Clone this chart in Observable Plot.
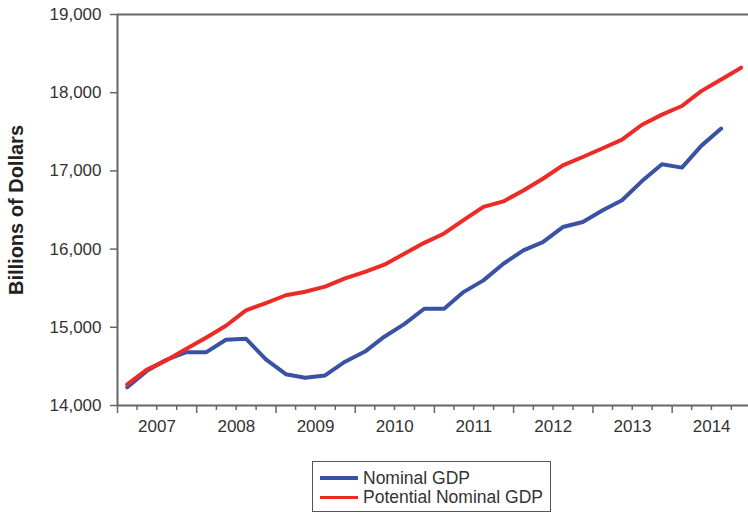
<!DOCTYPE html>
<html>
<head>
<meta charset="utf-8">
<script src="https://cdn.jsdelivr.net/npm/d3@7"></script>
<script src="https://cdn.jsdelivr.net/npm/@observablehq/plot@0.6"></script>
<style>
  html, body { margin: 0; padding: 0; background: #fff; }
  body { width: 748px; height: 513px; overflow: hidden; position: relative; font-family: 'Liberation Sans', Arial, sans-serif; }
  #legend { position: absolute; left: 312px; top: 461px; width: 239px; height: 51px; box-sizing: border-box; border: 1.5px solid #555; background: #fff; }
  .row { position: absolute; left: 7px; height: 20px; display: flex; align-items: center; font-size: 17.5px; color: #333; white-space: nowrap; }
  .sw { width: 38px; height: 3.5px; margin-right: 5px; }
</style>
</head>
<body>
<div id="chart"></div>
<div id="legend">
  <div class="row" style="top:6px"><span class="sw" style="background:#3a52a4"></span><span>Nominal GDP</span></div>
  <div class="row" style="top:25.5px"><span class="sw" style="background:#ec2a26"></span><span>Potential Nominal GDP</span></div>
</div>
<script>
// Quarterly observations (plotted at mid-quarter)
const quarters = [
  "2007Q1","2007Q2","2007Q3","2007Q4",
  "2008Q1","2008Q2","2008Q3","2008Q4",
  "2009Q1","2009Q2","2009Q3","2009Q4",
  "2010Q1","2010Q2","2010Q3","2010Q4",
  "2011Q1","2011Q2","2011Q3","2011Q4",
  "2012Q1","2012Q2","2012Q3","2012Q4",
  "2013Q1","2013Q2","2013Q3","2013Q4",
  "2014Q1","2014Q2","2014Q3","2014Q4"
];
const nominalGDP = [
  14234, 14440, 14585, 14682,
  14682, 14840, 14854, 14590,
  14400, 14355, 14384, 14560,
  14690, 14880, 15040, 15237,
  15237, 15450, 15600, 15813,
  15984, 16090, 16282, 16346,
  16496, 16624, 16870, 17084,
  17042, 17320, 17541
];
const potentialGDP = [
  14269, 14455, 14580, 14726,
  14870, 15020, 15216, 15310,
  15410, 15455, 15520, 15625,
  15710, 15800, 15940, 16080,
  16200, 16370, 16540, 16610,
  16750, 16900, 17070, 17178,
  17290, 17400, 17590, 17720,
  17830, 18020, 18170, 18320
];
const seriesNames = ["Nominal GDP", "Potential Nominal GDP"];
const seriesColors = ["#3a52a4", "#ec2a26"];
const yTicks = [14000, 15000, 16000, 17000, 18000, 19000];
const yearLabels = ["2007","2008","2009","2010","2011","2012","2013","2014"];
const yLabel = "Billions of Dollars";

function midQuarter(q) {
  const y = +q.slice(0, 4), n = +q.slice(5);
  return new Date(y, (n - 1) * 3 + 1, 15);
}
const data = [];
nominalGDP.forEach((v, i) => data.push({date: midQuarter(quarters[i]), value: v, series: seriesNames[0]}));
potentialGDP.forEach((v, i) => data.push({date: midQuarter(quarters[i]), value: v, series: seriesNames[1]}));

const yearStarts = yearLabels.map(y => new Date(+y, 0, 1));
const yearMids = yearLabels.map(y => new Date(+y, 6, 2));
const quarterTicks = [];
yearLabels.forEach(y => { for (let m = 3; m < 12; m += 3) quarterTicks.push(new Date(+y, m, 1)); });

const x0 = new Date(2007, 0, 1), x1 = new Date(2014, 11, 19);
const axisColor = "#666";

const chart = Plot.plot({
  width: 748,
  height: 450,
  marginTop: 14,
  marginBottom: 45,
  marginLeft: 117,
  marginRight: 0,
  style: {fontFamily: "'Liberation Sans', Arial, sans-serif", fontSize: "17px", color: "#333", background: "#fff"},
  x: {type: "time", domain: [x0, x1]},
  y: {domain: [14000, 19000]},
  color: {domain: seriesNames, range: seriesColors},
  marks: [
    Plot.axisY({ticks: yTicks, tickSize: 7, tickPadding: 9, tickFormat: d3.format(","), stroke: axisColor, strokeWidth: 1.5, label: null}),
    Plot.axisX({ticks: quarterTicks, tickSize: 5, tickFormat: () => "", stroke: axisColor, strokeWidth: 1.5, label: null}),
    Plot.axisX({ticks: yearStarts, tickSize: 8, tickFormat: () => "", stroke: axisColor, strokeWidth: 1.5, label: null}),
    Plot.axisX({ticks: yearMids, tickSize: 0, tickPadding: 14, tickFormat: (d, i) => yearLabels[i], label: null}),
    Plot.ruleY([19000], {stroke: axisColor, strokeWidth: 2}),
    Plot.ruleY([14000], {stroke: axisColor, strokeWidth: 2}),
    Plot.ruleX([x0], {stroke: axisColor, strokeWidth: 2}),
    Plot.line(data, {x: "date", y: "value", z: "series", stroke: "series", strokeWidth: 4, curve: "linear"}),
    Plot.text([yLabel], {frameAnchor: "left", dx: -101, rotate: -90, textAnchor: "middle", lineAnchor: "middle", fontSize: 20, fontWeight: "bold", fill: "#222", text: d => d})
  ]
});
document.getElementById("chart").appendChild(chart);
</script>
</body>
</html>
